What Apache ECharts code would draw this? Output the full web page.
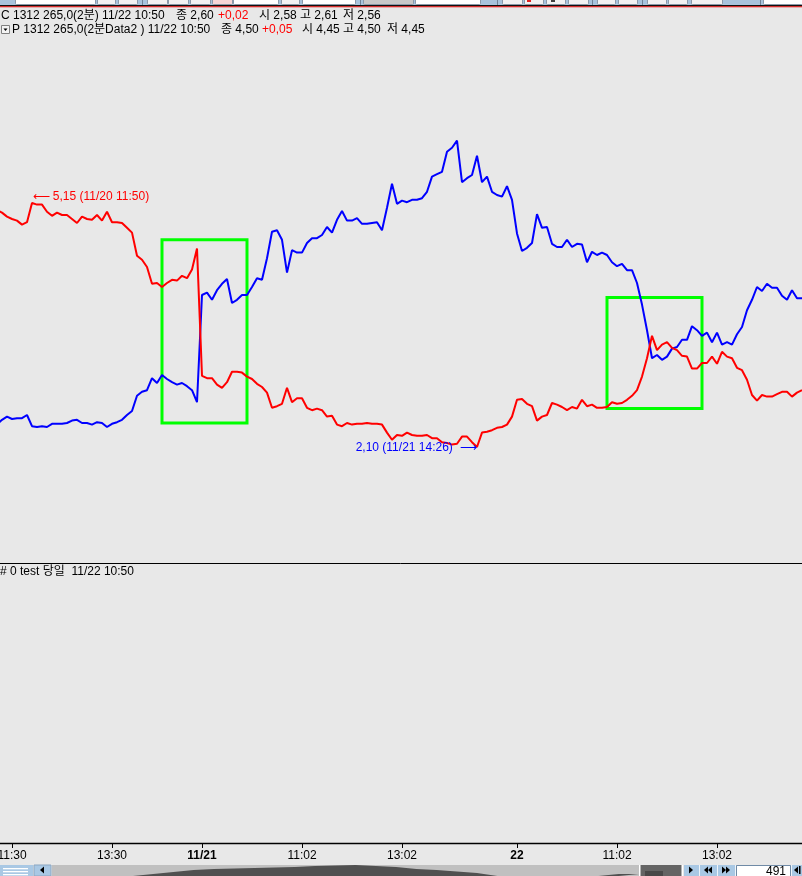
<!DOCTYPE html>
<html>
<head>
<meta charset="utf-8">
<script src="https://cdn.jsdelivr.net/npm/echarts@6/dist/echarts.min.js"></script>
<style>
html,body{margin:0;padding:0;background:#e8e8e8;}
#c{width:802px;height:876px;}
</style>
</head>
<body>
<div id="c"></div>
<script>
// ---------- data ----------
// trading sessions sampled every 6 minutes (3 two-minute bars)
const sessions = [['11/20','11:12','15:12'],['11/21','09:02','15:14'],['11/22','09:02','14:44']];
const stepMin = 6;

// C 1312 265.0 (red)
const callPrices = [
5.06,5.03,4.98,4.95,4.93,4.88,4.91,5.15,5.13,5.13,
5.04,4.99,5.03,5.00,5.00,4.95,4.90,4.98,4.95,4.94,
5.00,4.93,5.04,4.91,4.91,4.90,4.84,4.78,4.49,4.44,
4.35,4.14,4.15,4.10,4.15,4.19,4.18,4.24,4.21,4.32,4.58,
2.99,2.96,2.96,2.88,2.84,2.91,3.04,3.04,3.03,
2.98,2.95,2.89,2.85,2.78,2.59,2.61,2.64,2.84,2.66,
2.71,2.71,2.59,2.56,2.58,2.56,2.48,2.49,2.38,2.36,
2.40,2.38,2.39,2.39,2.40,2.39,2.39,2.38,2.28,2.19,
2.25,2.24,2.28,2.25,2.24,2.24,2.25,2.21,2.21,2.16,
2.15,2.13,2.14,2.23,2.23,2.16,2.10,2.28,2.29,2.31,
2.34,2.35,2.38,2.48,2.69,2.70,2.64,2.61,2.43,2.48,
2.50,2.65,2.63,2.60,2.56,2.60,2.58,2.69,2.61,2.63,
2.59,2.59,2.60,2.66,2.64,2.65,2.69,2.74,2.81,2.98,
3.21,3.49,3.31,3.38,3.41,3.34,3.31,3.24,3.23,3.08,
3.08,3.15,3.15,3.23,3.14,3.29,3.23,3.21,3.09,3.06,
2.94,2.75,2.68,2.75,2.73,2.73,2.76,2.79,2.79,2.73,
2.78,2.81
];

// P 1312 265.0 (blue)
const putPrices = [
2.38,2.44,2.48,2.45,2.46,2.46,2.50,2.36,2.35,2.36,
2.35,2.39,2.39,2.39,2.40,2.43,2.44,2.40,2.40,2.38,
2.41,2.40,2.35,2.39,2.41,2.44,2.50,2.55,2.74,2.79,
2.81,2.96,2.90,3.00,2.95,2.91,2.88,2.90,2.86,2.81,2.66,
4.00,4.03,3.94,4.06,4.14,4.20,3.90,3.94,4.00,
4.00,4.10,4.21,4.19,4.46,4.79,4.81,4.69,4.28,4.56,
4.53,4.53,4.65,4.71,4.71,4.75,4.85,4.78,4.94,5.05,
4.93,4.93,4.96,4.89,4.89,4.90,4.91,4.81,5.09,5.39,
5.14,5.18,5.16,5.19,5.19,5.21,5.29,5.48,5.51,5.54,
5.79,5.84,5.93,5.41,5.46,5.50,5.74,5.41,5.48,5.29,
5.25,5.23,5.36,5.19,4.77,4.55,4.59,4.65,5.01,4.84,
4.85,4.64,4.60,4.60,4.69,4.60,4.64,4.63,4.41,4.54,
4.50,4.53,4.50,4.41,4.36,4.39,4.31,4.31,4.15,3.88,
3.56,3.21,3.25,3.19,3.23,3.33,3.35,3.44,3.44,3.61,
3.56,3.49,3.53,3.41,3.53,3.38,3.41,3.38,3.51,3.60,
3.81,3.94,4.10,4.05,4.14,4.09,4.09,3.99,3.94,4.06,
3.96,3.96
];

// x-axis tick labels
const tickTimes = ['11/20 11:30','11/20 13:30','11/21 09:02','11/21 11:02','11/21 13:02','11/22 09:02','11/22 11:02','11/22 13:02'];
const tickTexts = ['11:30','13:30','11/21','11:02','13:02','22','11:02','13:02'];
const tickBold  = [false,false,true,false,false,true,false,false];

// highlighted boxes: [start time, end time, top price, bottom price]
const boxStart = ['11/20 14:30','11/22 10:50'];
const boxEnd   = ['11/21 09:56','11/22 12:44'];
const boxTop   = [4.69, 3.97];
const boxBottom= [2.40, 2.58];

// extreme notes
const noteTimes = ['11/20 11:50','11/21 14:26'];

// header texts
const headerC = ['C 1312 265,0(2분) 11/22 10:50','종 2,60','+0,02','시 2,58','고 2,61','저 2,56'];
const headerP = ['P 1312 265,0(2분Data2 ) 11/22 10:50','종 4,50','+0,05','시 4,45','고 4,50','저 4,45'];
const subHeader = '# 0 test 당일  11/22 10:50';
const barCount = '491';

// scroll-bar overview silhouette levels
const overviewLevels = [0,0,0,0,0,2,4,6,7,7.5,8,8.5,9,10,10.5,11,10,9,7,6,4.5,3,0,0,0,0,0,0,2,2];

// ---------- build ----------
function toMin(s){const p=s.split(':');return +p[0]*60+ +p[1];}
function fmtMin(m){const h=Math.floor(m/60),mm=m%60;return (h<10?'0':'')+h+':'+(mm<10?'0':'')+mm;}
const times=[];
sessions.forEach(function(s){for(let t=toMin(s[1]);t<=toMin(s[2]);t+=stepMin){times.push(s[0]+' '+fmtMin(t));}});
const overviewIdx = overviewLevels.map(function(_,i){return i;});

const FONT = "'Liberation Sans','Noto Sans CJK KR',sans-serif";
function comma(v){return v.toFixed(2).replace('.',',');}
function isTick(i,v){return tickTimes.indexOf(v)>=0;}

const graphics=[];
// top toolbar strip
graphics.push({type:'rect',shape:{x:0,y:0,width:802,height:5},style:{fill:'#a8c3dc'},z:0});
const tb=[[15,95,'w'],[97,115,'b'],[118,137,'b'],[142,142,'s'],[147,167,'b'],[168,188,'b'],[190,210,'b'],[212,232,'p'],[233,278,'w'],[281,299,'b'],[302,355,'w'],[360,360,'s'],[363,413,'g'],[415,480,'w'],[497,497,'s'],[502,522,'b'],[524,543,'b'],[546,565,'b'],[568,588,'b'],[592,592,'s'],[597,615,'b'],[618,637,'b'],[642,642,'s'],[647,666,'b'],[668,687,'b'],[691,722,'b'],[760,760,'s'],[763,802,'w']];
tb.forEach(function(b){
  if(b[2]==='s'){graphics.push({type:'line',shape:{x1:b[0]+0.5,y1:0,x2:b[0]+0.5,y2:5},style:{stroke:'#6f8296',lineWidth:1},z:1});return;}
  const fill={w:'#ffffff',b:'#f2f2f2',p:'#f6d6d6',g:'#c8c8c8'}[b[2]];
  graphics.push({type:'rect',shape:{x:b[0]+0.5,y:-3,width:b[1]-b[0],height:7.5,r:1},style:{fill:fill,stroke:'#8a98a8',lineWidth:1},z:1});
});
graphics.push({type:'rect',shape:{x:527,y:0,width:4,height:2},style:{fill:'#e02020'},z:2});
graphics.push({type:'rect',shape:{x:551,y:0,width:4,height:2},style:{fill:'#404040'},z:2});
graphics.push({type:'rect',shape:{x:0,y:5,width:802,height:1.2},style:{fill:'#101010'},z:2});
graphics.push({type:'rect',shape:{x:0,y:6.2,width:802,height:1},style:{fill:'#e00000'},z:2});

// header lines
const xC=[1,176,218,259,300,343], xP=[12,221,262,302,343,387];
headerC.forEach(function(t,i){graphics.push({type:'text',x:xC[i],y:15.5,style:{text:t,fill:i===2?'#ff0000':'#000000',font:'12px '+FONT,verticalAlign:'middle'},z:5});});
headerP.forEach(function(t,i){graphics.push({type:'text',x:xP[i],y:30,style:{text:t,fill:i===2?'#ff0000':'#000000',font:'12px '+FONT,verticalAlign:'middle'},z:5});});
graphics.push({type:'rect',shape:{x:1.5,y:25.5,width:8,height:8},style:{fill:'#f4f4f4',stroke:'#808080',lineWidth:1},z:5});
graphics.push({type:'polygon',shape:{points:[[3.5,28.5],[7.5,28.5],[5.5,31]]},style:{fill:'#000'},z:6});
graphics.push({type:'text',x:0,y:571.5,style:{text:subHeader,fill:'#000',font:'12px '+FONT,verticalAlign:'middle'},z:5});

// bottom scroll bar
const sbY=865, sbH=11, btn='#a9c8e4';
graphics.push({type:'rect',shape:{x:0,y:sbY,width:33,height:sbH},style:{fill:btn},z:0});
[868,871,874].forEach(function(yy){graphics.push({type:'rect',shape:{x:3,y:yy,width:25,height:1.3},style:{fill:'#ffffff'},z:1});});
graphics.push({type:'rect',shape:{x:34,y:sbY,width:17,height:sbH},style:{fill:btn,stroke:'#8aa6c2',lineWidth:1},z:0});
graphics.push({type:'polygon',shape:{points:[[40,870],[44,866.5],[44,873.5]]},style:{fill:'#000'},z:1});
graphics.push({type:'rect',shape:{x:52,y:sbY,width:587,height:sbH},style:{fill:'#c0c0c0'},z:0});
graphics.push({type:'rect',shape:{x:640,y:sbY,width:43,height:sbH},style:{fill:'#646464'},z:3});
graphics.push({type:'rect',shape:{x:645,y:871,width:18,height:5},style:{fill:'#484848'},z:3});
graphics.push({type:'rect',shape:{x:639,y:sbY,width:1.5,height:sbH},style:{fill:'#ffffff'},z:4});
graphics.push({type:'rect',shape:{x:681.5,y:sbY,width:1.5,height:sbH},style:{fill:'#ffffff'},z:4});
graphics.push({type:'rect',shape:{x:684,y:sbY,width:118,height:sbH},style:{fill:btn},z:0});
[699,717,735,791].forEach(function(xx){graphics.push({type:'rect',shape:{x:xx,y:sbY,width:1,height:sbH},style:{fill:'#eef4fa'},z:1});});
graphics.push({type:'polygon',shape:{points:[[689,866.5],[693,870],[689,873.5]]},style:{fill:'#000'},z:1});
graphics.push({type:'polygon',shape:{points:[[704,870],[708,866.5],[708,873.5]]},style:{fill:'#000'},z:1});
graphics.push({type:'polygon',shape:{points:[[708,870],[712,866.5],[712,873.5]]},style:{fill:'#000'},z:1});
graphics.push({type:'polygon',shape:{points:[[722,866.5],[726,870],[722,873.5]]},style:{fill:'#000'},z:1});
graphics.push({type:'polygon',shape:{points:[[726,866.5],[730,870],[726,873.5]]},style:{fill:'#000'},z:1});
graphics.push({type:'rect',shape:{x:736.5,y:sbY+0.5,width:54,height:sbH},style:{fill:'#ffffff',stroke:'#6f8aa6',lineWidth:1},z:1});
graphics.push({type:'text',x:786,y:871.5,style:{text:barCount,fill:'#000',font:'12px '+FONT,align:'right',verticalAlign:'middle'},z:2});
graphics.push({type:'polygon',shape:{points:[[794,870],[798,866.5],[798,873.5]]},style:{fill:'#000'},z:1});
graphics.push({type:'rect',shape:{x:799,y:866,width:1.5,height:8},style:{fill:'#000'},z:1});

const chart = echarts.init(document.getElementById('c'), null, {renderer:'canvas', width:802, height:876});
const option = {
  backgroundColor:'#e8e8e8',
  animation:false,
  grid:[
    {left:-3,right:0,top:35,height:528,outerBoundsMode:'none',containLabel:false},
    {left:-3,right:0,top:564,height:279,outerBoundsMode:'none',containLabel:false},
    {left:52,right:163,top:864,height:12,outerBoundsMode:'none',containLabel:false}
  ],
  xAxis:[
    {type:'category',gridIndex:0,data:times,boundaryGap:false,
     axisLine:{show:true,onZero:false,lineStyle:{color:'#000',width:1}},axisTick:{show:false},axisLabel:{show:false},splitLine:{show:false}},
    {type:'category',gridIndex:1,data:times,boundaryGap:false,
     axisLine:{show:true,onZero:false,lineStyle:{color:'#000',width:1.3}},
     axisTick:{show:true,interval:isTick,length:5,lineStyle:{color:'#000',width:1}},
     axisLabel:{show:true,interval:isTick,margin:7,color:'#000',fontSize:12,fontFamily:FONT,
       formatter:function(v){const k=tickTimes.indexOf(v);if(k<0)return '';return tickBold[k]?'{b|'+tickTexts[k]+'}':tickTexts[k];},
       rich:{b:{fontWeight:'bold',fontSize:12,fontFamily:FONT,color:'#000'}}},
     splitLine:{show:false}},
    {type:'category',gridIndex:2,data:overviewIdx,boundaryGap:false,show:false}
  ],
  yAxis:[
    {type:'value',gridIndex:0,min:0.65,max:7.25,show:false,splitLine:{show:false}},
    {type:'value',gridIndex:1,min:0,max:1,show:false,splitLine:{show:false}},
    {type:'value',gridIndex:2,min:0,max:12,show:false,splitLine:{show:false}}
  ],
  graphic:graphics,
  series:[
    {name:'P',type:'line',xAxisIndex:0,yAxisIndex:0,data:putPrices,symbol:'none',z:2,
     lineStyle:{color:'#0000ff',width:2},itemStyle:{color:'#0000ff'},silent:true},
    {name:'C',type:'line',xAxisIndex:0,yAxisIndex:0,data:callPrices,symbol:'none',z:3,
     lineStyle:{color:'#ff0000',width:2},itemStyle:{color:'#ff0000'},silent:true,
     markPoint:{symbol:'circle',symbolSize:1,silent:true,itemStyle:{color:'rgba(0,0,0,0)'},
       data:[
        {type:'max',label:{show:true,position:'right',distance:0,offset:[0,-6],color:'#ff0000',fontSize:12,fontFamily:FONT,
          formatter:function(p){return '\u27F5 '+comma(p.value)+' ('+noteTimes[0]+')';}}},
        {type:'min',label:{show:true,position:'left',distance:0,offset:[0,1],color:'#0000ff',fontSize:12,fontFamily:FONT,
          formatter:function(p){return comma(p.value)+' ('+noteTimes[1]+')  \u27F6';}}}
       ]}},
    {name:'boxes',type:'line',xAxisIndex:0,yAxisIndex:0,data:[],symbol:'none',z:6,silent:true,
     markArea:{silent:true,label:{show:false},itemStyle:{color:'rgba(0,0,0,0)',borderColor:'#00ff00',borderWidth:3},
       data:boxStart.map(function(s,i){return [{xAxis:s,yAxis:boxTop[i]},{xAxis:boxEnd[i],yAxis:boxBottom[i]}];})}},
    {name:'overview',type:'line',xAxisIndex:2,yAxisIndex:2,data:overviewLevels,symbol:'none',z:2,silent:true,
     lineStyle:{width:0},areaStyle:{color:'#505050',opacity:1}}
  ]
};
chart.setOption(option);
</script>
</body>
</html>
